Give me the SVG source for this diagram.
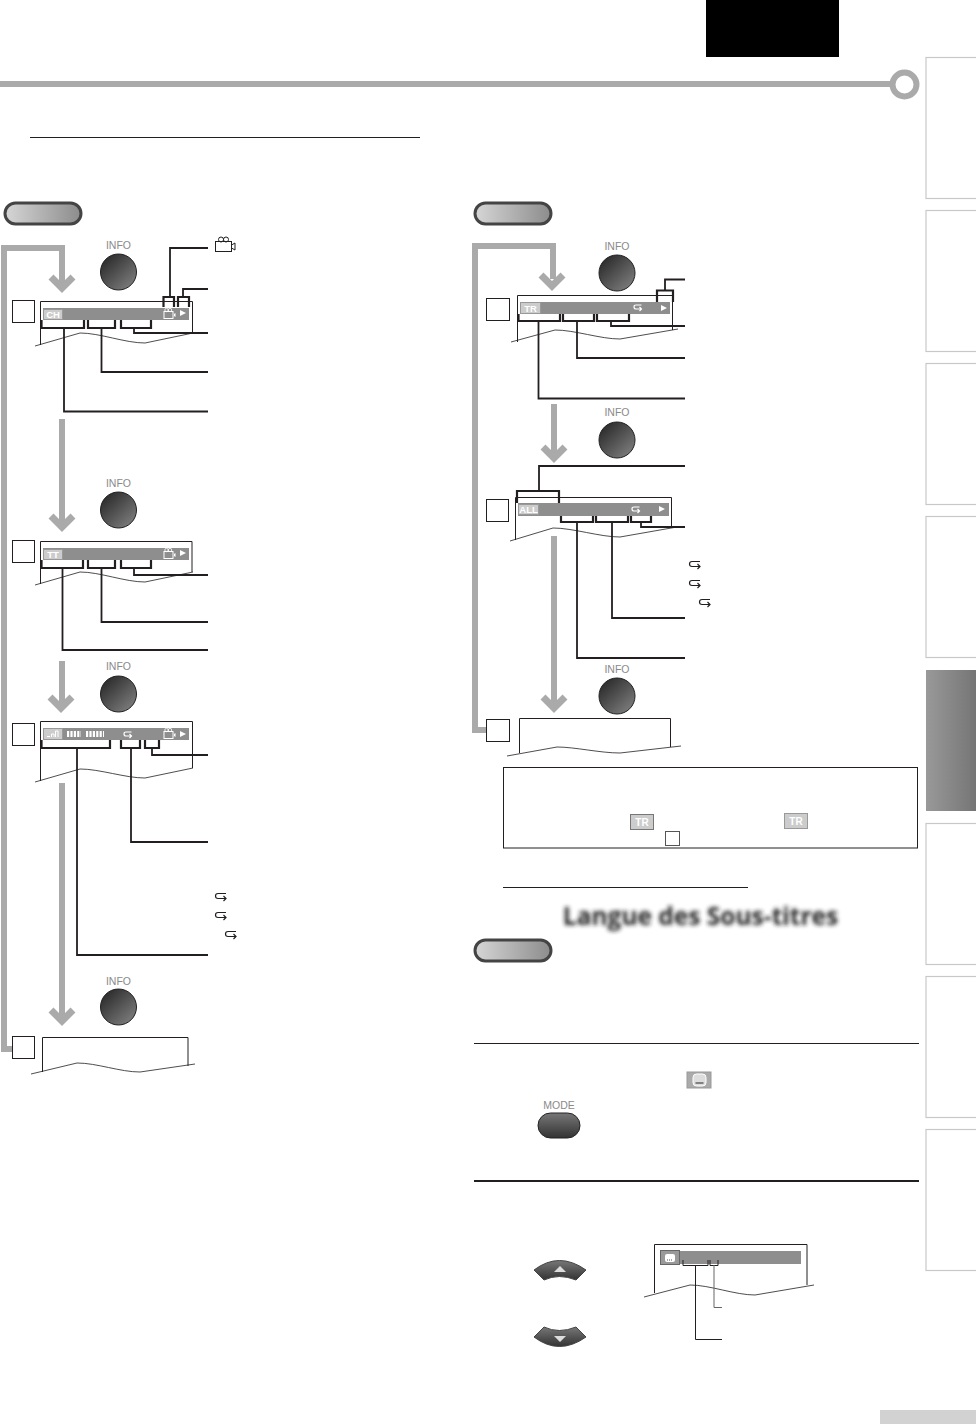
<svg xmlns="http://www.w3.org/2000/svg" width="976" height="1424" viewBox="0 0 976 1424">
<style>
.loop{fill:none;stroke:#aaa;stroke-width:6}
.chev{fill:none;stroke:#aaa;stroke-width:7}
.c{fill:none;stroke:#231f20;stroke-width:1.8}
.cb{fill:none;stroke:#231f20;stroke-width:2.2}
.box{fill:#fff;stroke:#231f20;stroke-width:1}
.wave{fill:none;stroke:#231f20;stroke-width:.8}
.bar{fill:#8e8e8e}
.chip{fill:#ccc;stroke:#999;stroke-width:1}
.ct{font:bold 9.500px "Liberation Sans",sans-serif;fill:#fff;text-anchor:middle}
.lbl{font:10.500px "Liberation Sans",sans-serif;fill:#8a8a8a;text-anchor:middle}
.tab{fill:#fff;stroke:#c8c8c8;stroke-width:1.2}
.pill{fill:url(#pg);stroke:#444;stroke-width:3}
.btn{fill:url(#bg);stroke:#222;stroke-width:1}
.rt{fill:none;stroke:#fff;stroke-width:1.2}
.rk{fill:none;stroke:#231f20;stroke-width:1.2}
.play{fill:#fff}
</style>
<defs>
<linearGradient id="pg" x1="0" x2="1" y1="0" y2="0"><stop offset="0" stop-color="#d6d6d6"/><stop offset="1" stop-color="#8c8c8c"/></linearGradient>
<linearGradient id="bg" x1="0.1" y1="0.1" x2="0.85" y2="0.9"><stop offset="0" stop-color="#2a2a2a"/><stop offset="1" stop-color="#7a7a7a"/></linearGradient>
<linearGradient id="mg" x1="0" y1="0" x2="0" y2="1"><stop offset="0" stop-color="#777"/><stop offset="1" stop-color="#333"/></linearGradient>
<linearGradient id="tg" x1="0" y1="0" x2="1" y2="0"><stop offset="0" stop-color="#999"/><stop offset="1" stop-color="#6e6e6e"/></linearGradient>
<filter id="blur" x="-5%" y="-30%" width="110%" height="160%"><feGaussianBlur stdDeviation="2.200"/></filter>
<path id="cv" d="M-11 -11 L0 0 L11 -11" class="chev"/>
<circle id="ib" r="18" class="btn"/>
<path id="rw" d="M3.500 -3 H-2 Q-4 -3 -4 -1 Q-4 1 -2 1 H3.500 M1.500 -1 L3.500 1 L1.500 3" class="rt"/>
<path id="rb" d="M5 -3.500 H-3 Q-5.500 -3.500 -5.500 -1 Q-5.500 1.500 -3 1.500 H5 M2.500 -1 L5 1.500 L2.500 4" class="rk"/>
<g id="cam"><rect x="-5" y="-2.500" width="9" height="7" fill="none" stroke="#fff"/><circle cx="-2.500" cy="-4" r="1.700" fill="none" stroke="#fff" stroke-width=".8"/><circle cx="1" cy="-4" r="1.700" fill="none" stroke="#fff" stroke-width=".8"/><path d="M5 0 L6.500 -1 V3 L5 2Z" fill="#fff"/></g>
<path id="pl" d="M-3 -3 L3 0 L-3 3Z" class="play"/>
</defs>
<rect width="976" height="1424" fill="#fff"/>
<g id="header">
<rect x="706" y="0" width="133" height="57" fill="#000"/>
<rect x="0" y="81" width="893" height="6" fill="#aaa"/>
<circle cx="904.500" cy="84.500" r="12" fill="#fff" stroke="#aaa" stroke-width="6"/>
<rect x="30" y="137" width="390" height="1" fill="#231f20"/>
</g>
<g id="tabs">
<rect class="tab" x="926" y="57.500" width="60" height="141"/>
<rect class="tab" x="926" y="210.500" width="60" height="141"/>
<rect class="tab" x="926" y="363.500" width="60" height="141"/>
<rect class="tab" x="926" y="516.500" width="60" height="141"/>
<rect x="926" y="670" width="60" height="141" fill="url(#tg)"/>
<rect class="tab" x="926" y="823.500" width="60" height="141"/>
<rect class="tab" x="926" y="976.500" width="60" height="141"/>
<rect class="tab" x="926" y="1129.500" width="60" height="141"/>
<rect x="880" y="1410" width="96" height="14" fill="#d2d2d2"/>
</g>
<g id="pill-left"><rect class="pill" x="5" y="203" width="76" height="21" rx="10.500"/></g>
<g id="pill-right"><rect class="pill" x="475" y="203" width="76" height="21" rx="10.500"/></g>
<g id="pill-sub"><rect class="pill" x="475" y="940" width="76" height="21" rx="10.500"/></g>

<g id="flow-arrows">
<path class="loop" d="M62 284 V248 H4 V1049 H14"/>
<use href="#cv" x="62" y="288"/>
<path class="loop" d="M62 419 V526"/><use href="#cv" x="62" y="527"/>
<path class="loop" d="M62 661 V706"/><use href="#cv" x="61" y="708"/>
<path class="loop" d="M62 783 V1018"/><use href="#cv" x="62" y="1021"/>
<path class="loop" d="M553 279 V246 H475 V730 H486"/>
<use href="#cv" x="552" y="286"/>
<path class="loop" d="M554 404 V456"/><use href="#cv" x="554" y="458"/>
<path class="loop" d="M554 536 V706"/><use href="#cv" x="554" y="708"/>
</g>

<g id="info-buttons">
<g id="info1"><text class="lbl" x="118.500" y="249">INFO</text><use href="#ib" x="118.500" y="272"/></g>
<g id="info2"><text class="lbl" x="118.500" y="487">INFO</text><use href="#ib" x="118.500" y="510"/></g>
<g id="info3"><text class="lbl" x="118.500" y="670">INFO</text><use href="#ib" x="118.500" y="694"/></g>
<g id="info4"><text class="lbl" x="118.500" y="985">INFO</text><use href="#ib" x="118.500" y="1007"/></g>
<g id="info5"><text class="lbl" x="617" y="250">INFO</text><use href="#ib" x="617" y="273"/></g>
<g id="info6"><text class="lbl" x="617" y="416">INFO</text><use href="#ib" x="617" y="440"/></g>
<g id="info7"><text class="lbl" x="617" y="673">INFO</text><use href="#ib" x="617" y="696"/></g>
</g>

<g id="panel-ch">
<rect class="box" x="12.500" y="300.500" width="22" height="22"/>
<path class="box" style="fill:none" d="M40.500 345 V301.500 H192.500 V333"/>
<path class="wave" d="M35 346 L80 333 C100 333 125 343 145 343 L193 333"/>
<rect class="bar" x="43" y="308" width="146" height="12"/>
<rect class="chip" x="43.500" y="309.500" width="19" height="10"/>
<text class="ct" x="53" y="318">CH</text>
<use href="#cam" x="169" y="314"/><use href="#pl" x="183" y="313"/>
</g>
<g id="panel-tt">
<rect class="box" x="12.500" y="540.500" width="22" height="22"/>
<path class="box" d="M40.500 584 V541.500 H192 V572" style="fill:none"/>
<path class="wave" d="M35 585 L80 572 C100 572 125 582 145 582 L193 572"/>
<rect class="bar" x="43" y="548" width="146" height="12"/>
<rect class="chip" x="43.500" y="549.500" width="19" height="10"/>
<text class="ct" x="53" y="558">TT</text>
<use href="#cam" x="169" y="554"/><use href="#pl" x="183" y="553"/>
</g>
<g id="panel-signal">
<rect class="box" x="12.500" y="723.500" width="22" height="22"/>
<path class="box" d="M40.500 781 V721.500 H192.500 V768" style="fill:none"/>
<path class="wave" d="M35 782 L80 769 C100 769 125 778 145 778 L193 768"/>
<rect class="bar" x="43" y="728" width="146" height="12"/>
<rect class="chip" x="43.500" y="728.500" width="19" height="11"/>
<path d="M47 736.500 H50 M51.500 737 V734 H54 V737 M55.500 737 V731 H58 V737" fill="none" stroke="#fff"/>
<path d="M67 734 H81" stroke="#fff" stroke-width="6" stroke-dasharray="2.200 1.200"/>
<path d="M86 734 H104" stroke="#fff" stroke-width="6" stroke-dasharray="2.200 1.200"/>
<use href="#rw" x="128" y="735"/>
<use href="#cam" x="169" y="734"/><use href="#pl" x="183" y="734"/>
</g>
<g id="panel-blank1">
<rect class="box" x="12.500" y="1036.500" width="22" height="22"/>
<path class="box" d="M42.500 1072 V1037.500 H188 V1066" style="fill:none"/>
<path class="wave" d="M31 1074 L77 1063 C97 1063 120 1072 140 1072 L195 1064"/>
</g>
<g id="panel-tr">
<rect class="box" x="486.500" y="298.500" width="23" height="22"/>
<path class="box" d="M517.500 342 V295.500 H672.500 V330" style="fill:none"/>
<path class="wave" d="M511 342 L555 330 C575 330 600 339 620 339 L678 329"/>
<rect class="bar" x="520" y="302" width="150" height="12"/>
<rect class="chip" x="520.500" y="302.500" width="20" height="11"/>
<text class="ct" x="530.500" y="312">TR</text>
<use href="#rw" x="638" y="308"/><use href="#pl" x="664" y="308"/>
</g>
<g id="panel-all">
<rect class="box" x="486.500" y="499.500" width="22" height="22"/>
<path class="box" d="M515.500 540 V497.500 H671.500 V527" style="fill:none"/>
<path class="wave" d="M510 541 L553 528 C573 528 600 537 620 537 L677 527"/>
<rect class="bar" x="518" y="503" width="151" height="13"/>
<rect class="chip" x="518.500" y="504.500" width="20" height="10"/>
<text class="ct" x="528.500" y="513">ALL</text>
<use href="#rw" x="636" y="510"/><use href="#pl" x="662" y="509"/>
</g>
<g id="panel-blank2">
<rect class="box" x="486.500" y="719.500" width="23" height="22"/>
<path class="box" d="M519.500 753 V718.500 H670.500 V747" style="fill:none"/>
<path class="wave" d="M507 756 L557 747 C575 747 600 753 620 753 L681 746"/>
</g>
<g id="note">
<rect x="503.500" y="767.500" width="414" height="80.500" fill="none" stroke="#231f20" stroke-width="1"/>
<rect class="chip" x="630.500" y="814.500" width="23" height="15" style="stroke:#777"/>
<text class="ct" x="642" y="826" style="font-size:10px">TR</text>
<rect class="chip" x="784.500" y="813.500" width="23" height="15"/>
<text class="ct" x="796" y="825" style="font-size:10px">TR</text>
<rect x="665.500" y="831.500" width="14" height="14" fill="#fff" stroke="#555"/>
</g>
<g id="subtitle-head">
<rect x="503" y="887" width="245" height="1" fill="#231f20"/>
<text x="700.500" y="925" text-anchor="middle" filter="url(#blur)" style="font:bold 24.500px 'Open Sans',sans-serif;fill:#222">Langue des Sous-titres</text>
</g>
<g id="steps-sub">
<rect x="474" y="1043" width="445" height="1" fill="#231f20"/>
<rect x="474" y="1180" width="445" height="2" fill="#231f20"/>
<g id="sub-chip"><rect x="687" y="1072" width="24" height="16" fill="#aaa" stroke="#999"/><rect x="693" y="1074" width="13" height="12" rx="3.500" fill="#ddd" stroke="#fff"/><path d="M695.500 1083 H703.500" stroke="#444" stroke-width="1.200"/></g>
<g id="mode-btn"><text class="lbl" x="559" y="1109">MODE</text><rect x="538" y="1113" width="42" height="25" rx="12.500" fill="url(#mg)" stroke="#222"/></g>
<g id="up-btn"><path d="M534 1270 Q559 1251 586 1270 L576 1280 Q559 1273 544 1280Z" fill="url(#mg)" stroke="#444"/><path d="M554 1272 L560 1266 L566 1272Z" fill="#ddd"/></g>
<g id="down-btn"><path d="M534 1337 L544 1327 Q559 1334 576 1327 L586 1337 Q559 1356 534 1337Z" fill="url(#mg)" stroke="#444"/><path d="M554 1336 L566 1336 L560 1342Z" fill="#ddd"/></g>
</g>
<g id="panel-sub">
<path class="box" d="M654.500 1293 V1244.500 H807 V1285" style="fill:none"/>
<path class="wave" d="M644 1297 L690 1285 C710 1285 735 1295 755 1295 L814 1285"/>
<rect class="bar" x="660" y="1251" width="141" height="13"/>
<rect x="660.500" y="1250.500" width="19" height="14" fill="#999" stroke="#666"/>
<rect x="665" y="1254" width="10" height="8" rx="2" fill="#fff"/>
<path d="M667 1260 H673" stroke="#555" stroke-dasharray="1 1"/>
</g>

<g id="connectors">
<path class="cb" d="M41.500 320 V328 H84 V320 M88 320 V328 H115 V320 M121 320 V328 H151 V320"/>
<path class="c" d="M64 328 V411.500 H208 M101.500 328 V372 H208 M134 328 V333 H208"/>
<path class="cb" d="M163.500 307 V297 H174 V307 M178 307 V297 H189 V307"/>
<path class="c" d="M170 297 V248 H208 M183 297 V289 H208"/>

<path class="cb" d="M41.500 560 V568 H83 V560 M88 560 V568 H115 V560 M121 560 V568 H151 V560"/>
<path class="c" d="M62.500 568 V650 H208 M101.500 568 V622 H208 M134 568 V575 H208"/>

<path class="cb" d="M41.500 740 V748 H110 V740 M121 740 V748 H140 V740 M145 740 V748 H159 V740"/>
<path class="c" d="M77 748 V955 H208 M131 748 V842 H208 M152 748 V755 H208"/>

<path class="cb" d="M518.500 314 V321 H560 V314 M563 314 V321 H594 V314 M597 314 V321 H629 V314"/>
<path class="c" d="M538.500 321 V398.500 H685 M577 321 V358 H685 M611 321 V326 H685"/>
<path class="cb" d="M657 302 V290.500 H673 V302"/>
<path class="c" d="M665 290 V279.500 H685"/>

<path class="cb" d="M517 503 V491 H559 V503"/>
<path class="c" d="M539 491 V466 H685"/>
<path class="cb" d="M561 516 V522 H593 V516 M596 516 V522 H628 V516 M631 516 V522 H651 V516"/>
<path class="c" d="M577 522 V658 H685 M612 522 V618 H685 M641 522 V527 H685"/>

<path class="c" style="stroke-width:1" d="M683 1260 V1265.500 H708 V1260 M710 1260 V1265.500 H718 V1260"/>
<path class="c" style="stroke-width:1" d="M695.500 1265 V1339.500 H722"/>
<path class="c" style="stroke-width:1;stroke:#666" d="M714 1265 V1307.500 H722"/>
</g>
<g id="list-icons">
<g fill="none" stroke="#231f20"><rect x="215.500" y="241.500" width="16" height="10"/><circle cx="221" cy="239.500" r="2.500"/><circle cx="226" cy="239.500" r="2.500"/><path d="M231.500 245 L235 243 V250 L231.500 248"/></g>
<use href="#rb" x="221" y="897"/><use href="#rb" x="221" y="916"/><use href="#rb" x="231" y="935"/>
<use href="#rb" x="695" y="565"/><use href="#rb" x="695" y="584"/><use href="#rb" x="705" y="603"/>
</g>
</svg>
